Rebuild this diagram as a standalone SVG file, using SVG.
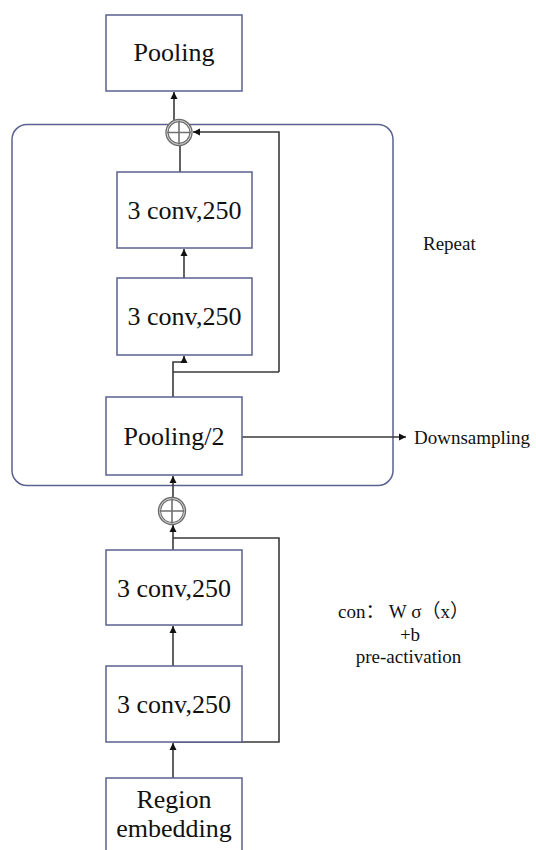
<svg xmlns="http://www.w3.org/2000/svg" width="536" height="850" viewBox="0 0 536 850">
<style>
.box{fill:#fff;stroke:#5b6190;stroke-width:1.5}
.frame{fill:none;stroke:#5b6190;stroke-width:1.5}
.ln{fill:none;stroke:#3a3a3a;stroke-width:1.6}
.lbl{font-family:"Liberation Serif","Times New Roman",serif;font-size:26px;fill:#111;text-anchor:middle}
.note{font-family:"Liberation Serif","Noto Sans CJK SC",serif;font-size:19px;fill:#111}
.ring{fill:none;stroke:#6e6e6e;stroke-width:3.4}
.ringin{fill:none;stroke:#e8e8e8;stroke-width:0.9}
.cross{fill:none;stroke:#707070;stroke-width:1.6}
</style>
<defs>
<marker id="ah" markerWidth="8" markerHeight="8" refX="7" refY="4" orient="auto" markerUnits="userSpaceOnUse">
<path d="M0,0.5 L7,4 L0,7.5 Z" fill="#111"/>
</marker>
</defs>
<rect x="0" y="0" width="536" height="850" fill="#fff"/>
<g id="repeat-frame">
<rect class="frame" x="12" y="124.5" width="381" height="361" rx="15"/>
</g>
<g id="connectors">
<path class="ln" d="M174,120 L174,92" marker-end="url(#ah)"/>
<path class="ln" d="M180,172 L180,145"/>
<path class="ln" d="M279,372 L279,132 L193,132" marker-end="url(#ah)"/>
<path class="ln" d="M173,397 L173,362 L184,362 L184,356" marker-end="url(#ah)"/>
<path class="ln" d="M173,372 L279,372"/>
<path class="ln" d="M184,278 L184,249" marker-end="url(#ah)"/>
<path class="ln" d="M242,437 L406,437" marker-end="url(#ah)"/>
<path class="ln" d="M173,498 L173,476" marker-end="url(#ah)"/>
<path class="ln" d="M173,550 L173,525" marker-end="url(#ah)"/>
<path class="ln" d="M173,538 L279,538 L279,742 L173,742"/>
<path class="ln" d="M173,666 L173,626" marker-end="url(#ah)"/>
<path class="ln" d="M173,778 L173,743" marker-end="url(#ah)"/>
</g>
<g id="sum-top">
<circle cx="179" cy="132.5" r="12" fill="#fff"/>
<circle class="ring" cx="179" cy="132.5" r="12"/>
<circle class="ringin" cx="179" cy="132.5" r="12"/>
<path class="cross" d="M167,132.5 H191 M179,120.5 V144.5"/>
</g>
<g id="sum-bottom">
<circle cx="172" cy="511" r="12.5" fill="#fff"/>
<circle class="ring" cx="172" cy="511" r="12.5"/>
<circle class="ringin" cx="172" cy="511" r="12.5"/>
<path class="cross" d="M159.5,511 H184.5 M172,498.5 V523.5"/>
</g>
<g id="pooling-top">
<rect class="box" x="106" y="15" width="136" height="76"/>
<text class="lbl" x="174" y="61">Pooling</text>
</g>
<g id="conv-a">
<rect class="box" x="117" y="172" width="135" height="76"/>
<text class="lbl" x="184.5" y="219">3 conv,250</text>
</g>
<g id="conv-b">
<rect class="box" x="117" y="278" width="135" height="77"/>
<text class="lbl" x="184.5" y="325">3 conv,250</text>
</g>
<g id="pooling-2">
<rect class="box" x="106" y="397" width="136" height="78"/>
<text class="lbl" x="174" y="445">Pooling/2</text>
</g>
<g id="downsampling">
<text class="note" x="414" y="444" font-size="20">Downsampling</text>
</g>
<g id="repeat-label">
<text class="note" x="423" y="250" font-size="20">Repeat</text>
</g>
<g id="conv-c">
<rect class="box" x="106" y="550" width="136" height="75"/>
<text class="lbl" x="174" y="597">3 conv,250</text>
</g>
<g id="conv-d">
<rect class="box" x="106" y="666" width="136" height="76"/>
<text class="lbl" x="174" y="713">3 conv,250</text>
</g>
<g id="region-embedding">
<rect class="box" x="106" y="778" width="136" height="80"/>
<text class="lbl" x="174" y="808">Region</text>
<text class="lbl" x="174" y="837">embedding</text>
</g>
<g id="note">
<text class="note" x="338" y="618" font-size="18.5">con： W σ（x）</text>
<text class="note" x="410" y="641" text-anchor="middle" font-size="18.5">+b</text>
<text class="note" x="408.5" y="663" text-anchor="middle">pre-activation</text>
</g>
</svg>
